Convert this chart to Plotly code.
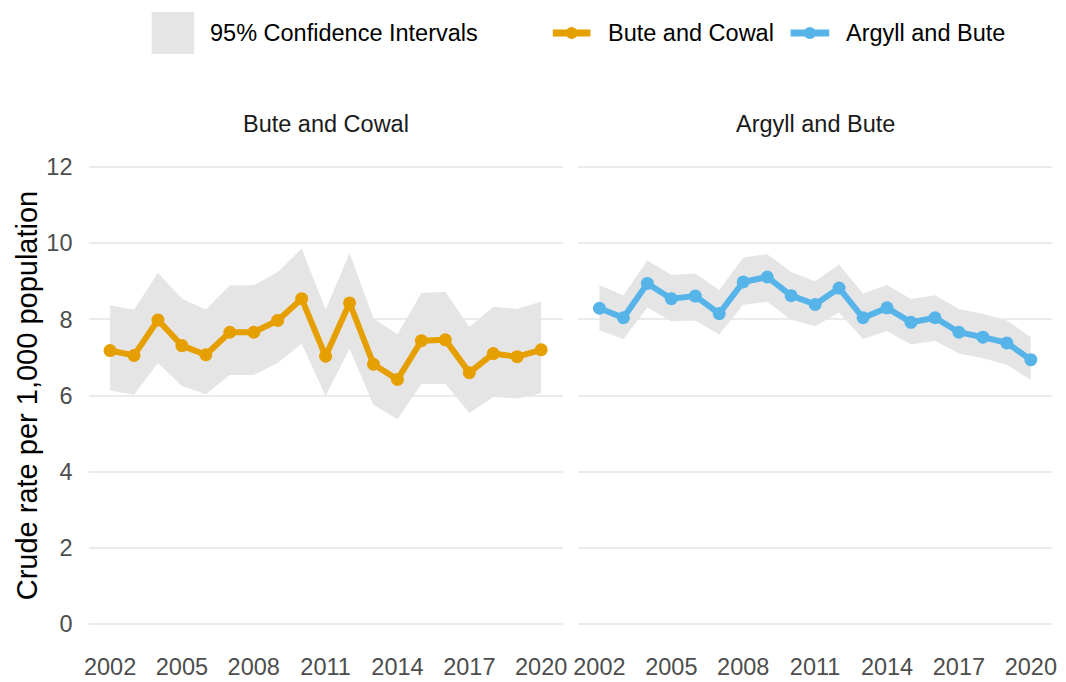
import plotly.graph_objects as go
from plotly.subplots import make_subplots

# data
years = list(range(2002, 2021))

bc_rate = [7.18, 7.05, 7.98, 7.31, 7.07, 7.66, 7.66, 7.97, 8.54, 7.03,
           8.43, 6.82, 6.42, 7.44, 7.46, 6.60, 7.10, 7.02, 7.20]
bc_upper = [8.37, 8.25, 9.22, 8.54, 8.26, 8.89, 8.89, 9.24, 9.86, 8.25,
            9.74, 8.02, 7.61, 8.69, 8.72, 7.80, 8.33, 8.27, 8.47]
bc_lower = [6.13, 6.02, 6.85, 6.25, 6.03, 6.54, 6.54, 6.85, 7.36, 5.99,
            7.23, 5.75, 5.38, 6.30, 6.31, 5.54, 5.96, 5.92, 6.06]

ab_rate = [8.29, 8.04, 8.94, 8.54, 8.61, 8.15, 8.98, 9.11, 8.62, 8.39,
           8.82, 8.04, 8.30, 7.92, 8.04, 7.66, 7.53, 7.38, 6.94]
ab_upper = [8.89, 8.63, 9.54, 9.16, 9.20, 8.77, 9.62, 9.71, 9.24, 9.00,
            9.44, 8.68, 8.90, 8.53, 8.63, 8.27, 8.14, 7.97, 7.53]
ab_lower = [7.71, 7.48, 8.31, 7.95, 7.97, 7.60, 8.38, 8.46, 7.99, 7.82,
            8.18, 7.48, 7.69, 7.34, 7.44, 7.10, 6.98, 6.81, 6.41]

areas = ["Bute and Cowal", "Argyll and Bute"]
colours = ["#E69F00", "#56B4E9"]
x_ticks = [2002, 2005, 2008, 2011, 2014, 2017, 2020]
y_ticks = [0, 2, 4, 6, 8, 10, 12]

FONT = "Liberation Sans, Arial, sans-serif"
W, H = 1066, 682
CI_GREY = "#e5e5e5"
TXT = 23.5

fig = make_subplots(rows=1, cols=2, shared_yaxes=True)

series = [(bc_rate, bc_lower, bc_upper), (ab_rate, ab_lower, ab_upper)]
for i, (rate, lo, hi) in enumerate(series):
    col = i + 1
    fig.add_trace(go.Scatter(x=years, y=hi, mode="lines", line=dict(width=0),
                             showlegend=False, hoverinfo="skip"), row=1, col=col)
    fig.add_trace(go.Scatter(x=years, y=lo, mode="lines", line=dict(width=0),
                             fill="tonexty", fillcolor=CI_GREY,
                             showlegend=False, hoverinfo="skip"), row=1, col=col)
    fig.add_trace(go.Scatter(x=years, y=rate, mode="lines+markers", name=areas[i],
                             line=dict(color=colours[i], width=6),
                             marker=dict(color=colours[i], size=13),
                             showlegend=False), row=1, col=col)

# panel geometry (pixels -> paper)
left_dom = [84.3 / W, 563 / W]
right_dom = [578.3 / W, 1057.3 / W]
y_dom = [1 - 647 / H, 1 - 144 / H]

axis_common = dict(showline=False, zeroline=False, ticks="",
                   tickfont=dict(family=FONT, size=TXT, color="#4d4d4d"))

fig.update_xaxes(range=[2001.1, 2020.9], tickvals=x_ticks, showgrid=False,
                 ticklabelstandoff=3, **axis_common)
fig.update_yaxes(range=[-0.6, 12.6], tickvals=y_ticks, showgrid=True,
                 gridcolor="#ebebeb", gridwidth=2, domain=y_dom, **axis_common)
fig.update_xaxes(domain=left_dom, row=1, col=1)
fig.update_xaxes(domain=right_dom, row=1, col=2)
fig.update_yaxes(ticklabelstandoff=15, row=1, col=1)
fig.update_yaxes(showticklabels=False, row=1, col=2)

annotations = []
# strip titles
for i, dom in enumerate([left_dom, right_dom]):
    annotations.append(dict(text=areas[i], x=(dom[0] + dom[1]) / 2, y=1 - 124 / H,
                            xref="paper", yref="paper", showarrow=False,
                            xanchor="center", yanchor="middle",
                            font=dict(family=FONT, size=TXT, color="#1a1a1a")))
# y-axis title
annotations.append(dict(text="Crude rate per 1,000 population", x=22 / W,
                        y=(y_dom[0] + y_dom[1]) / 2, xref="paper", yref="paper",
                        showarrow=False, textangle=-90, xanchor="center",
                        yanchor="middle", font=dict(family=FONT, size=29, color="black")))

# legend, drawn by hand to match the reference key sizes
leg_y = 1 - 33 / H
shapes = [dict(type="rect", xref="paper", yref="paper",
               x0=148 / W, x1=191 / W, y0=1 - 54 / H, y1=1 - 12 / H,
               fillcolor=CI_GREY, line=dict(width=0))]
annotations.append(dict(text="95% Confidence Intervals", x=205 / W, y=leg_y,
                        xref="paper", yref="paper", showarrow=False,
                        xanchor="left", yanchor="middle",
                        font=dict(family=FONT, size=TXT, color="black")))
for (x0, x1, tx), name, c in zip([(553, 591, 607), (793, 832, 847)], areas, colours):
    xm = (x0 + x1) / 2
    shapes.append(dict(type="line", xref="paper", yref="paper", x0=x0 / W, x1=x1 / W,
                       y0=leg_y, y1=leg_y, line=dict(color=c, width=7)))
    shapes.append(dict(type="circle", xref="paper", yref="paper",
                       x0=(xm - 6) / W, x1=(xm + 6) / W,
                       y0=leg_y - 6 / H, y1=leg_y + 6 / H,
                       fillcolor=c, line=dict(width=0)))
    annotations.append(dict(text=name, x=tx / W, y=leg_y, xref="paper", yref="paper",
                            showarrow=False, xanchor="left", yanchor="middle",
                            font=dict(family=FONT, size=TXT, color="black")))

fig.update_layout(
    width=W, height=H,
    margin=dict(l=0, r=0, t=0, b=0),
    plot_bgcolor="white", paper_bgcolor="white",
    showlegend=False,
    annotations=annotations,
    shapes=shapes,
    font=dict(family=FONT),
)

# drop the default 8px page margin so the figure fills the window exactly
fig.write_html("out.html", config={"displayModeBar": False},
               post_script="document.body.style.margin='0';document.body.style.overflow='hidden';")
